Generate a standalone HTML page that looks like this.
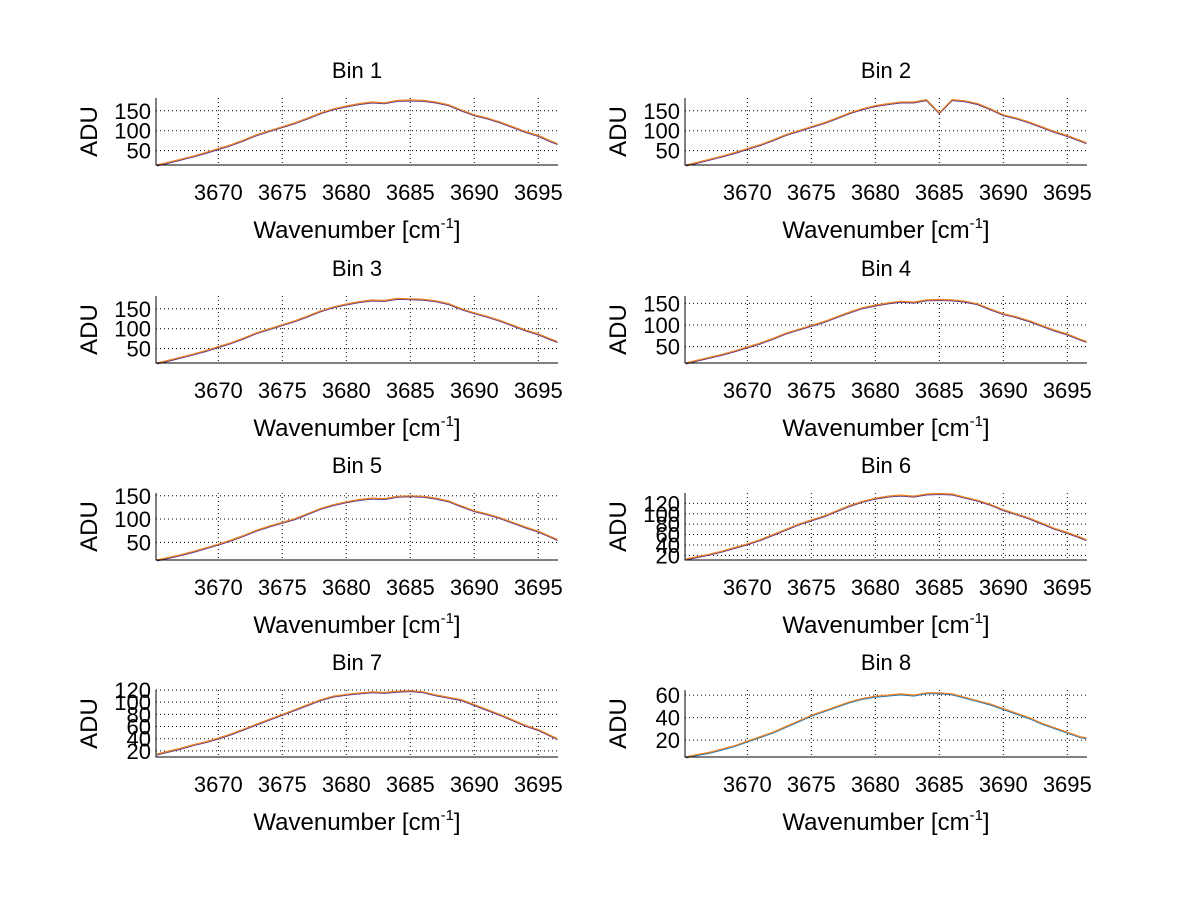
<!DOCTYPE html>
<html><head><meta charset="utf-8"><style>
html,body{margin:0;padding:0;background:#fff}
svg{display:block;font-family:"Liberation Sans",sans-serif}
</style></head><body>
<svg id="fig" width="1200" height="901" viewBox="0 0 1200 901"></svg>
<script>
const wavenumbers=[3665.2,3666,3667,3668,3669,3670,3671,3672,3673,3674,3675,3676,3677,3678,3679,3680,3681,3682,3683,3684,3685,3686,3687,3688,3689,3690,3691,3692,3693,3694,3695,3696,3696.5];
const bin1=[14,20,28,36,45,55,65,77,90,100,110,120,132,145,155,162,168,172,170,176,177,176,172,165,152,140,132,122,110,98,88,74,68];
const bin2=[14,20,28,36,45,55,65,77,90,100,110,120,132,145,155,163,168,172,172,178,145,178,175,168,155,140,132,122,110,98,88,76,70];
const bin3=[14,20,28,36,45,55,65,77,90,100,110,120,132,145,155,162,168,172,171,176,175,174,170,163,150,140,131,121,109,97,87,74,68];
const bin4=[12,18,25,32,40,49,58,69,81,90,99,108,119,130,140,146,151,155,153,158,159,158,155,149,137,126,119,110,99,88,79,67,62];
const bin5=[12,17,23,30,38,46,55,65,76,85,93,101,112,123,131,137,142,145,144,149,150,149,145,139,128,118,111,103,93,83,74,62,56];
const bin6=[13,17,22,28,35,42,50,60,70,80,88,96,106,116,124,130,134,136,134,138,139,138,132,126,118,108,100,92,82,72,64,55,50];
const bin7=[15,19,24,30,35,41,48,56,64,72,80,88,96,104,110,113,115,117,116,118,119,117,112,108,104,96,88,80,71,62,55,45,40];
const bin8=[5,7,9,12,15,19,23,27,32,37,42,46,50,54,57,59,60,61,60,62,62,61,58,55,52,48,44,40,35,31,27,23,22];
const xTicks=[3670,3675,3680,3685,3690,3695];
const yTicks1=[50,100,150],yTicks4=[50,100,150],yTicks6=[20,40,60,80,100,120],yTicks8=[20,40,60];
const yRanges=[[14,182],[14,182],[14,182],[12,167],[12,156],[11,140],[10,120],[5,64.5]];
const series=[bin1,bin2,bin3,bin4,bin5,bin6,bin7,bin8];
const yTickSets=[yTicks1,yTicks1,yTicks1,yTicks4,yTicks4,yTicks6,yTicks6,yTicks8];
const titles=["Bin 1","Bin 2","Bin 3","Bin 4","Bin 5","Bin 6","Bin 7","Bin 8"];
const XMIN=3665.13,XMAX=3696.54;
const NS="http://www.w3.org/2000/svg";
const svg=document.getElementById('fig');
function mk(tag,attrs,parent){const e=document.createElementNS(NS,tag);for(const k in attrs)e.setAttribute(k,attrs[k]);(parent||svg).appendChild(e);return e;}
const lefts=[156,685],tops=[98,296,493,690],W=402,H=67;
series.forEach((data,i)=>{
  const L=lefts[i%2],T=tops[Math.floor(i/2)],B=T+H,R=L+W;
  const [y0,y1]=yRanges[i];
  const sx=v=>L+(v-XMIN)/(XMAX-XMIN)*W;
  const sy=v=>B-(v-y0)/(y1-y0)*H;
  const g=mk('g',{});
  
  
  xTicks.forEach(t=>{
    const x=sx(t);
    const gl=mk('line',{x1:x,y1:T,x2:x,y2:B,stroke:'#000','stroke-width':1,'stroke-dasharray':'1,3'},g);
    
    const tl=mk('text',{x:x,y:B+35,'font-size':22,'text-anchor':'middle',fill:'#000'},g);
    tl.textContent=t;
    
  });
  yTickSets[i].forEach(t=>{
    const y=sy(t);
    const gl=mk('line',{x1:L,y1:y,x2:R,y2:y,stroke:'#000','stroke-width':1,'stroke-dasharray':'1,3'},g);
    
    const tl=mk('text',{x:L-5,y:y+8,'font-size':22,'text-anchor':'end',fill:'#000'},g);
    tl.textContent=t;
    
  });
  const pts=wavenumbers.map((w,k)=>sx(w).toFixed(1)+','+sy(data[k]).toFixed(1)).join(' ');
  const under=mk('polyline',{points:pts,fill:'none',stroke:i===7?'#1f77b4':'#5a3a8a','stroke-width':1,transform:'translate(0,1)'},g);
  
  const line=mk('polyline',{points:pts,fill:'none',stroke:'#f0801e','stroke-width':1.2},g);
  
  const ax=mk('path',{d:`M${L},${T}V${B}H${R}`,fill:'none',stroke:'#000','stroke-width':1},g);
  
  const tt=mk('text',{x:L+W/2,y:T-20,'font-size':22,'text-anchor':'middle',fill:'#000'},g);
  tt.textContent=titles[i];
  
  const xl=mk('text',{x:L+W/2,y:B+73,'font-size':24,'text-anchor':'middle',fill:'#000'},g);
  xl.innerHTML='Wavenumber [cm<tspan font-size="15" dy="-10">-1</tspan><tspan dy="10">]</tspan>';
  
  const cy=T+H/2, lx=L-68;
  const yl=mk('text',{x:lx,y:cy,'font-size':24,'text-anchor':'middle',fill:'#000',transform:`rotate(-90 ${lx} ${cy}) translate(0,9)`},g);
  yl.textContent='ADU';
  
});
</script>
</body></html>
